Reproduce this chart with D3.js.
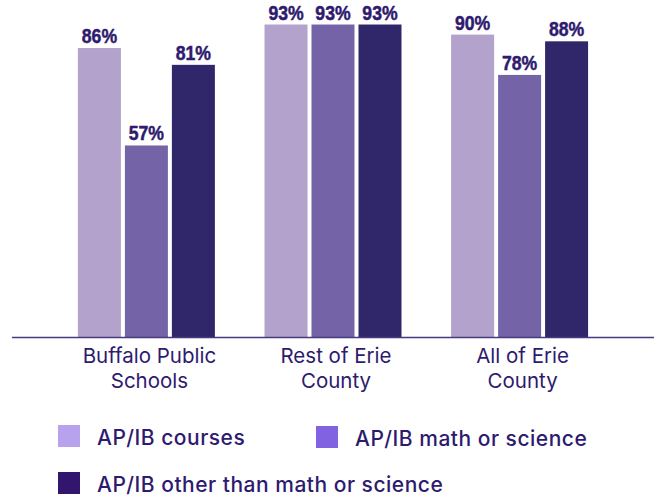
<!DOCTYPE html>
<html>
<head>
    <meta charset="utf-8">
    <title>AP/IB course access</title>
    <script src="https://d3js.org/d3.v7.min.js"></script>
    <style>
        html, body {
            margin: 0;
            background: white;
        }

        .value-label {
            font-family: "Liberation Sans", Arial, sans-serif;
            font-weight: bold;
            font-size: 21px;
            fill: #2e1a6e;
            stroke: #2e1a6e;
            stroke-width: 0.5px;
            text-anchor: middle;
        }

        .group-label {
            font-family: Inter, "Noto Sans", sans-serif;
            font-size: 20.5px;
            fill: #2e1a6e;
            text-anchor: middle;
        }

        .legend-label {
            font-family: Inter, "Noto Sans", sans-serif;
            font-size: 21px;
            font-weight: 500;
            letter-spacing: 0.5px;
            fill: #2e1a6e;
        }
    </style>
</head>
<body>
    <svg id="svg"></svg>
    <script>
        const categories = ["Buffalo Public Schools", "Rest of Erie County", "All of Erie County"];
        const categoryLines = [["Buffalo Public", "Schools"], ["Rest of Erie", "County"], ["All of Erie", "County"]];
        const series = ["AP/IB courses", "AP/IB math or science", "AP/IB other than math or science"];
        const apibCourses = [86, 93, 90];
        const apibMathScience = [57, 93, 78];
        const apibOther = [81, 93, 88];

        const width = 654;
        const height = 499;
        const baseline = 337;

        const barColors = ["#b3a2cc", "#7563a8", "#30276a"];
        const legendColors = ["#b9a2ed", "#8162e0", "#32166e"];

        const svg = d3.select("#svg")
            .attr("width", width)
            .attr("height", height);

        const seriesValues = [apibCourses, apibMathScience, apibOther];
        const data = categories.map((c, i) => ({
            category: c,
            lines: categoryLines[i],
            values: series.map((s, j) => ({ series: s, value: seriesValues[j][i] }))
        }));

        const x0 = d3.scaleBand()
            .domain(categories)
            .range([53.1, 612.9])
            .paddingInner(0.266)
            .paddingOuter(0.133);

        const x1 = d3.scaleBand()
            .domain(series)
            .range([0, x0.bandwidth()])
            .paddingInner(0.085);

        const y = d3.scaleLinear()
            .domain([0, 100])
            .range([baseline, baseline - 336]);

        const color = d3.scaleOrdinal().domain(series).range(barColors);
        const legendColor = d3.scaleOrdinal().domain(series).range(legendColors);

        const groups = svg.append("g")
            .selectAll("g")
            .data(data)
            .enter()
            .append("g")
            .attr("transform", d => `translate(${x0(d.category)}, 0)`);

        groups.selectAll("rect")
            .data(d => d.values)
            .enter()
            .append("rect")
            .attr("x", d => x1(d.series))
            .attr("y", d => y(d.value))
            .attr("width", x1.bandwidth())
            .attr("height", d => baseline - y(d.value))
            .attr("fill", d => color(d.series));

        // condensed bold look: squeeze the bold sans horizontally
        groups.selectAll("text")
            .data(d => d.values)
            .enter()
            .append("text")
            .attr("class", "value-label")
            .attr("transform", d => `translate(${x1(d.series) + x1.bandwidth() / 2}, ${y(d.value) - 5}) scale(0.84, 1)`)
            .text(d => d.value + "%");

        // baseline across the full width
        svg.append("line")
            .attr("x1", 12)
            .attr("x2", width)
            .attr("y1", baseline + 0.5)
            .attr("y2", baseline + 0.5)
            .attr("stroke", "#473a7e")
            .attr("stroke-width", 1.5);

        // category labels, two lines each
        const labels = svg.append("g")
            .selectAll("text")
            .data(data)
            .enter()
            .append("text")
            .attr("class", "group-label")
            .attr("transform", d => `translate(${x0(d.category) + x0.bandwidth() / 2 + 3}, 363)`);

        labels.selectAll("tspan")
            .data(d => d.lines)
            .enter()
            .append("tspan")
            .attr("x", 0)
            .attr("y", (d, i) => i * 25)
            .text(d => d);

        // legend
        const legendPos = [[58, 425], [316, 426], [58, 472]];

        const legend = svg.append("g")
            .selectAll("g")
            .data(series)
            .enter()
            .append("g")
            .attr("transform", (d, i) => `translate(${legendPos[i][0]}, ${legendPos[i][1]})`);

        legend.append("rect")
            .attr("width", 22)
            .attr("height", 22)
            .attr("fill", d => legendColor(d));

        legend.append("text")
            .attr("class", "legend-label")
            .attr("x", 39)
            .attr("y", 20)
            .text(d => d);
    </script>
</body>
</html>
